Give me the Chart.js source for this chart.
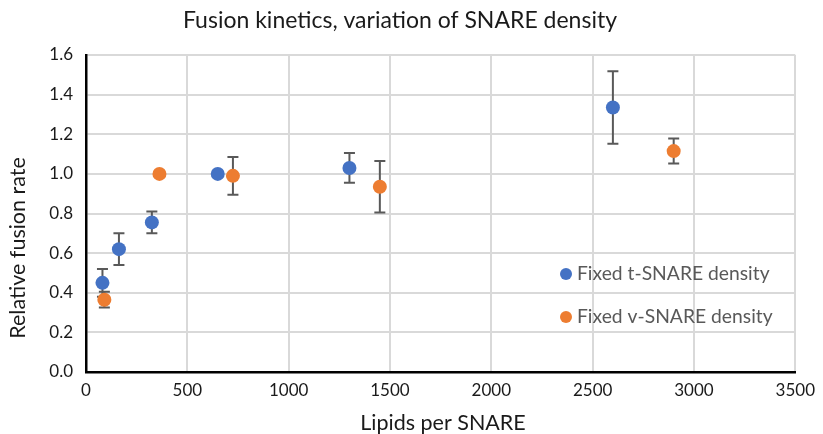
<!DOCTYPE html>
<html>
<head>
<meta charset="utf-8">
<script src="https://cdn.jsdelivr.net/npm/chart.js@4.4.1/dist/chart.umd.min.js"></script>
<style>
  html, body { margin: 0; padding: 0; background: #ffffff; }
  #wrap { width: 823px; height: 434px; }
</style>
</head>
<body>
<div id="wrap"><canvas id="c" width="823" height="434"></canvas></div>
<script>
// ---- data ----
const titleText = "Fusion kinetics, variation of SNARE density";
const xAxisTitle = "Lipids per SNARE";
const yAxisTitle = "Relative fusion rate";

const tLabel = "Fixed t-SNARE density";
const tLipids = [81.25, 162.5, 325, 650, 1300, 2600];
const tRate   = [0.45, 0.62, 0.755, 1.0, 1.03, 1.335];
const tErr    = [0.07, 0.08, 0.055, 0, 0.075, 0.183];

const vLabel = "Fixed v-SNARE density";
const vLipids = [90.6, 362.5, 725, 1450, 2900];
const vRate   = [0.365, 1.0, 0.99, 0.935, 1.115];
const vErr    = [0.04, 0, 0.095, 0.13, 0.063];

const xMin = 0, xMax = 3500, xStep = 500;
const yMin = 0, yMax = 1.6, yStep = 0.2;

const FONT = "Lato, 'Open Sans', sans-serif";
const BLUE = "#4472C4", ORANGE = "#ED7D31";

const toPts = (xs, ys) => xs.map((x, i) => ({ x: x, y: ys[i] }));

const errorBars = {
  id: 'errorBars',
  beforeDatasetsDraw(chart) {
    const ctx = chart.ctx, xs = chart.scales.x, ys = chart.scales.y;
    const sets = [[tLipids, tRate, tErr], [vLipids, vRate, vErr]];
    ctx.save();
    ctx.strokeStyle = "#595959";
    ctx.lineWidth = 2;
    sets.forEach(([X, Y, E]) => {
      X.forEach((xv, i) => {
        if (!E[i]) return;
        const px = xs.getPixelForValue(xv);
        const top = ys.getPixelForValue(Y[i] + E[i]);
        const bot = ys.getPixelForValue(Y[i] - E[i]);
        ctx.beginPath();
        ctx.moveTo(px, top); ctx.lineTo(px, bot);
        ctx.moveTo(px - 5.5, top); ctx.lineTo(px + 5.5, top);
        ctx.moveTo(px - 5.5, bot); ctx.lineTo(px + 5.5, bot);
        ctx.stroke();
      });
    });
    ctx.restore();
  }
};

const extras = {
  id: 'extras',
  afterDraw(chart) {
    const ctx = chart.ctx;
    ctx.save();
    // axis titles
    ctx.fillStyle = "#1a1a1a";
    ctx.font = "21.5px " + FONT;
    ctx.textAlign = "center";
    ctx.textBaseline = "middle";
    ctx.fillText(xAxisTitle, 443, 423);
    ctx.save();
    ctx.translate(18, 248);
    ctx.rotate(-Math.PI / 2);
    ctx.fillText(yAxisTitle, 0, 0);
    ctx.restore();
    // legend inside plot
    const items = [[tLabel, BLUE, 274], [vLabel, ORANGE, 317]];
    ctx.font = "19.3px " + FONT;
    ctx.textAlign = "left";
    items.forEach(([txt, col, y]) => {
      ctx.fillStyle = col;
      ctx.beginPath();
      ctx.arc(566, y, 6, 0, Math.PI * 2);
      ctx.fill();
      ctx.fillStyle = "#595959";
      ctx.fillText(txt, 577, y);
    });
    ctx.restore();
  }
};

new Chart(document.getElementById('c'), {
  type: 'scatter',
  data: {
    datasets: [
      { label: tLabel, data: toPts(tLipids, tRate), backgroundColor: BLUE, borderColor: BLUE,
        pointRadius: 7, pointHoverRadius: 7, borderWidth: 0 },
      { label: vLabel, data: toPts(vLipids, vRate), backgroundColor: ORANGE, borderColor: ORANGE,
        pointRadius: 7, pointHoverRadius: 7, borderWidth: 0 }
    ]
  },
  options: {
    responsive: false,
    animation: false,
    devicePixelRatio: 1,
    layout: { padding: { left: 0, right: 23, top: 0, bottom: 0 } },
    plugins: {
      legend: { display: false },
      tooltip: { enabled: false },
      title: {
        display: true, text: titleText, color: "#1a1a1a",
        font: { family: FONT, size: 23, weight: 'normal', lineHeight: 1.2 },
        padding: { top: 7, bottom: 20.4 }
      }
    },
    scales: {
      x: {
        type: 'linear', min: xMin, max: xMax,
        afterFit(s) { s.height = 62; },
        afterBuildTicks(s) { const t = []; for (let v = xMin; v <= xMax; v += xStep) t.push({ value: v }); s.ticks = t; },
        ticks: { color: "#1a1a1a", font: { family: FONT, size: 17 }, padding: 8,
                 callback: v => String(v), maxRotation: 0 },
        grid: { color: "#d9d9d9", lineWidth: 2, drawTicks: false },
        border: { color: "#000000", width: 2.5 }
      },
      y: {
        type: 'linear', min: yMin, max: yMax,
        afterFit(s) { s.width = 86; },
        afterBuildTicks(s) { const t = []; for (let i = 0; i <= Math.round((yMax - yMin) / yStep); i++) t.push({ value: +(yMin + i * yStep).toFixed(1) }); s.ticks = t; },
        ticks: { color: "#1a1a1a", font: { family: FONT, size: 17 }, padding: 13,
                 callback: v => Number(v).toFixed(1) },
        grid: { color: "#d9d9d9", lineWidth: 2, drawTicks: false },
        border: { color: "#000000", width: 2.5 }
      }
    }
  },
  plugins: [errorBars, extras]
});
</script>
</body>
</html>
